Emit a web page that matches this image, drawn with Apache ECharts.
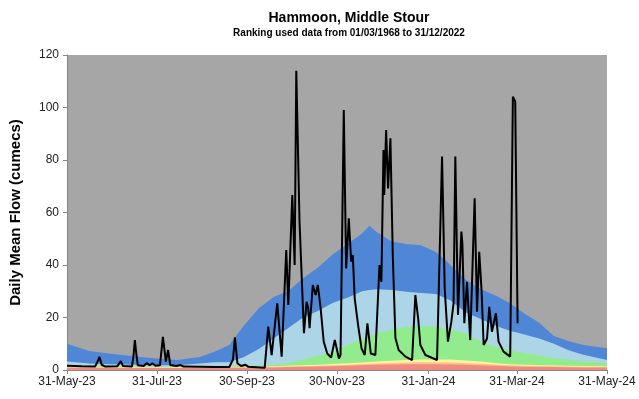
<!DOCTYPE html>
<html>
<head>
<meta charset="utf-8">
<script src="https://cdn.jsdelivr.net/npm/echarts@6/dist/echarts.min.js"></script>
<style>
  html, body { margin: 0; padding: 0; background: #fff; }
  #chart { width: 639px; height: 399px; }
</style>
</head>
<body>
<div id="chart"></div>
<script>
// Days counted from 31-May-23
const tickDays = [0, 61, 122, 183, 245, 305, 366];
const tickLabels = ['31-May-23', '31-Jul-23', '30-Sep-23', '30-Nov-23', '31-Jan-24', '31-Mar-24', '31-May-24'];

// Percentile band boundaries (cumecs), sampled by day
const bandDays = [0, 15, 30, 45, 60, 75, 90, 100, 110, 120, 130, 140, 150, 160, 170, 180, 190, 200, 205, 210, 220, 230, 240, 250, 260, 270, 280, 290, 300, 310, 320, 330, 340, 350, 366];
const blueTop = [10, 7.2, 6.2, 5.2, 4.4, 3.8, 5, 7, 9.5, 17, 23.5, 27.8, 30, 35, 39, 44, 48, 52, 55, 52.5, 49, 48, 47.5, 45, 40, 34.5, 31, 28.5, 25.5, 21.5, 18, 13, 11, 9.5, 8.3];
const lightBlueTop = [3.2, 2.5, 2.2, 2, 1.8, 1.8, 2.5, 3, 3, 5, 8, 12, 16, 20, 22.5, 25.5, 27.5, 30, 30.5, 30.8, 30.5, 29.8, 29.3, 29, 26.5, 22, 19.5, 17, 15, 13.5, 12, 10, 7.5, 5.8, 3.8];
const greenTop = [1.8, 1.7, 1.5, 1.4, 1.3, 1.3, 1.4, 1.4, 1.5, 1.5, 1.7, 2.1, 2.7, 4, 5.5, 7, 9.5, 12, 13, 14, 15.5, 16.5, 17, 16.5, 15.5, 14, 11, 9, 7.5, 6.5, 5.5, 4.6, 4, 3.3, 2.7];
const yellowTop = [1.3, 1.25, 1.2, 1.15, 1.1, 1.1, 1.1, 1.15, 1.2, 1.2, 1.3, 1.45, 1.6, 1.8, 2, 2.3, 2.6, 2.9, 3.05, 3.2, 3.5, 3.8, 4, 4, 4, 3.6, 3.2, 2.7, 2.2, 2, 1.85, 1.7, 1.6, 1.5, 1.4];
const orangeTop = [1.05, 1.0, 1.0, 0.95, 0.95, 0.95, 0.95, 1.0, 1.0, 1.05, 1.1, 1.2, 1.3, 1.45, 1.6, 1.8, 2.0, 2.25, 2.35, 2.5, 2.7, 2.9, 3.0, 3.0, 2.9, 2.7, 2.4, 2.1, 1.8, 1.6, 1.5, 1.4, 1.3, 1.25, 1.2];
const redTop = [0.9, 0.85, 0.85, 0.8, 0.8, 0.8, 0.8, 0.85, 0.85, 0.9, 0.95, 1.0, 1.1, 1.2, 1.3, 1.4, 1.6, 1.8, 1.9, 2.0, 2.1, 2.2, 2.2, 2.2, 2.1, 2.0, 1.8, 1.6, 1.3, 1.2, 1.15, 1.1, 1.05, 1.0, 1.0];

// Daily mean flow, 2023/24 (day, cumecs)
const flowDays = [0, 10, 19, 21, 22, 23.5, 26, 34, 36.5, 38, 44, 45, 46, 47, 48, 52, 54, 56, 58, 60, 63, 65, 67, 68.5, 70, 74, 77, 79, 90, 100, 110, 112.5, 113.8, 115.5, 118, 121, 123, 134, 136.4, 138.7, 142.5, 145.5, 148.6, 150, 152.7, 154.3, 155.4, 157.6, 160.6, 162.4, 163.5, 164.4, 166.6, 168.5, 170, 171.9, 174, 176.4, 179, 181.5, 184.3, 185.4, 187.6, 189.2, 191, 192.6, 193.7, 195, 197.3, 199.6, 201.8, 203.6, 205.9, 209, 211.8, 213.1, 214.5, 215, 216.3, 217.6, 219.2, 220.8, 222.6, 224.8, 229.4, 233.9, 236.1, 238, 239.5, 242.9, 250.8, 254.2, 256, 258.2, 260.5, 262, 263.2, 265, 267.3, 268, 269.3, 271.1, 273.3, 276.3, 277.9, 279.4, 281, 282.4, 284.7, 286.2, 288, 290.7, 292.5, 295.9, 300.4, 302.2, 303.8, 305.4];
const flowValues = [1.6, 1.4, 1.3, 3.5, 5, 2, 1.3, 1.4, 3.4, 1.5, 1.3, 5, 11.4, 6, 1.8, 1.5, 2.6, 1.8, 2.5, 1.6, 1.8, 12.6, 3.2, 7.6, 1.9, 1.5, 1.9, 1.3, 1.2, 1.1, 1.1, 4, 12.4, 2.6, 1.5, 2, 1.2, 0.9, 16.5, 5.7, 25.4, 5.1, 45.7, 24.8, 66.7, 40, 114, 56.5, 14, 26, 23.6, 15.9, 32.4, 28.6, 32.4, 23.6, 10.8, 6.3, 4.7, 11.4, 4.4, 5.7, 99, 38.7, 57.8, 41.3, 43.8, 27.3, 17.1, 8.3, 5.7, 17.8, 6.3, 5.7, 40, 33.6, 83.8, 66.7, 91.4, 69.2, 88.3, 43.8, 12.2, 7.6, 5.1, 3.8, 28.6, 19.7, 9.5, 5.7, 3.8, 81.3, 31.1, 10.8, 18.4, 25.4, 81.3, 21, 52.7, 48, 17.8, 33.6, 11.4, 65.4, 22.2, 45, 30, 9.5, 12, 24.1, 14.6, 21.6, 10.8, 7, 5.1, 104.1, 102.2, 17.8];

const pairs = (xs, ys) => xs.map((x, i) => [x, ys[i]]);

// Each band is filled down to zero; upper bands are drawn first so lower ones sit on top
const bands = [
  { top: blueTop, color: '#4f86d6' },
  { top: lightBlueTop, color: '#acd6e8' },
  { top: greenTop, color: '#92ec8e' },
  { top: yellowTop, color: '#fdf59a' },
  { top: orangeTop, color: '#fbc48a' },
  { top: redTop, color: '#f28a84' }
];

const font = 'Liberation Sans, Arial, sans-serif';

const series = bands.map((b, i) => ({
  type: 'line',
  data: pairs(bandDays, b.top),
  symbol: 'none',
  silent: true,
  z: 1 + i,
  lineStyle: { width: 0 },
  areaStyle: { color: b.color, opacity: 1 }
}));

series.push({
  type: 'line',
  data: pairs(flowDays, flowValues),
  symbol: 'none',
  z: 20,
  lineStyle: { color: '#000', width: 2 }
});

const chart = echarts.init(document.getElementById('chart'), null, { renderer: 'canvas' });
chart.setOption({
  animation: false,
  backgroundColor: '#fff',
  title: {
    text: 'Hammoon, Middle Stour',
    subtext: 'Ranking used data from 01/03/1968 to 31/12/2022',
    left: 344,
    textAlign: 'center',
    top: 6,
    itemGap: 3,
    textStyle: { fontFamily: font, fontSize: 14, fontWeight: 'bold', color: '#000' },
    subtextStyle: { fontFamily: font, fontSize: 10, fontWeight: 'bold', color: '#000' }
  },
  grid: {
    left: 66, right: 32, top: 55, bottom: 29,
    show: true, backgroundColor: '#a6a6a6', borderWidth: 0
  },
  xAxis: {
    type: 'value',
    min: 0,
    max: 366,
    splitLine: { show: false },
    axisLine: { lineStyle: { color: '#868686', width: 1 } },
    axisTick: { show: true, customValues: tickDays, length: 4, lineStyle: { color: '#868686' } },
    axisLabel: {
      customValues: tickDays,
      fontFamily: font, fontSize: 12, color: '#222', margin: 6,
      formatter: v => tickLabels[tickDays.indexOf(v)]
    }
  },
  yAxis: {
    type: 'value',
    min: 0,
    max: 120,
    interval: 20,
    name: 'Daily Mean Flow (cumecs)',
    nameLocation: 'middle',
    nameGap: 44,
    nameTextStyle: { fontFamily: font, fontSize: 15, fontWeight: 'bold', color: '#000' },
    splitLine: { show: false },
    axisLine: { show: true, lineStyle: { color: '#868686', width: 1 } },
    axisTick: { show: true, length: 4, lineStyle: { color: '#868686' } },
    axisLabel: { fontFamily: font, fontSize: 12, color: '#222', margin: 8 }
  },
  series: series
});
</script>
</body>
</html>
